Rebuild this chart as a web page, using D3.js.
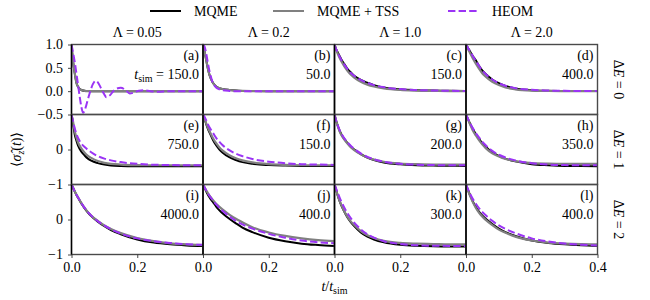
<!DOCTYPE html>
<html><head><meta charset="utf-8">
<script src="https://cdn.jsdelivr.net/npm/d3@7"></script>
<style>body{margin:0;background:#fff}</style>
</head><body><svg id="c" width="650" height="300"></svg>
<script>
// ---- data ----
const T = [0, 0.005, 0.01, 0.015, 0.02, 0.03, 0.04, 0.05, 0.06, 0.08, 0.10, 0.12, 0.15, 0.20, 0.25, 0.30, 0.35, 0.40];
const lambdas = ["0.05", "0.2", "1.0", "2.0"];
const deltaE = ["0", "1", "2"];
const letters = ["a","b","c","d","e","f","g","h","i","j","k","l"];
const tSim = ["150.0","50.0","150.0","400.0","750.0","150.0","200.0","350.0","4000.0","400.0","300.0","400.0"];
const xTicks = [0, 0.2];
const xTicksLast = [0, 0.2, 0.4];
const yTicksRow = [[1, 0.5, 0, -0.5], [0, -1], [0, -1]];
const yDomainRow = [[-0.5, 1], [-1, 1], [-1, 1]];

const mqme = [
 [1,0.62,0.38,0.18,0.09,0.025,0.008,0.002,0,0,0,0,0,0,0,0,0,0],
 [1,0.84,0.66,0.48,0.34,0.18,0.1,0.065,0.045,0.025,0.013,0.006,0.002,0,0,0,0,0],
 [1,0.9,0.83,0.76,0.69,0.58,0.47,0.4,0.33,0.24,0.18,0.13,0.08,0.04,0.022,0.012,0.007,0.005],
 [1,0.94,0.88,0.82,0.76,0.66,0.54,0.44,0.37,0.25,0.17,0.11,0.06,0.022,0.01,0.005,0.003,0.002],
 [1,0.72,0.42,0.25,0.11,-0.06,-0.17,-0.26,-0.32,-0.39,-0.43,-0.455,-0.47,-0.478,-0.48,-0.48,-0.48,-0.48],
 [1,0.86,0.72,0.59,0.48,0.28,0.12,0.0,-0.09,-0.22,-0.3,-0.36,-0.41,-0.445,-0.46,-0.468,-0.47,-0.47],
 [1,0.82,0.68,0.55,0.45,0.3,0.18,0.08,0.0,-0.13,-0.23,-0.3,-0.37,-0.425,-0.45,-0.46,-0.465,-0.47],
 [1,0.89,0.79,0.69,0.6,0.44,0.3,0.18,0.08,-0.08,-0.18,-0.26,-0.34,-0.42,-0.45,-0.47,-0.475,-0.48],
 [1,0.9,0.8,0.7,0.62,0.46,0.32,0.2,0.1,-0.06,-0.19,-0.3,-0.42,-0.57,-0.66,-0.71,-0.74,-0.76],
 [1,0.9,0.8,0.71,0.63,0.5,0.37,0.26,0.17,0.02,-0.11,-0.23,-0.36,-0.52,-0.62,-0.69,-0.73,-0.76],
 [1,0.84,0.68,0.54,0.42,0.22,0.05,-0.08,-0.19,-0.37,-0.49,-0.57,-0.65,-0.72,-0.75,-0.765,-0.77,-0.77],
 [1,0.87,0.75,0.64,0.53,0.36,0.22,0.11,0.02,-0.13,-0.26,-0.36,-0.47,-0.6,-0.67,-0.71,-0.735,-0.75]
];
const mqmeTss = [
 [1,0.62,0.38,0.18,0.09,0.025,0.008,0.002,0,0,0,0,0,0,0,0,0,0],
 [1,0.84,0.66,0.48,0.34,0.18,0.1,0.065,0.045,0.025,0.013,0.006,0.002,0,0,0,0,0],
 [1,0.89,0.8,0.72,0.65,0.53,0.43,0.35,0.29,0.2,0.14,0.1,0.06,0.025,0.012,0.006,0.003,0.002],
 [1,0.92,0.85,0.78,0.71,0.59,0.48,0.38,0.31,0.2,0.13,0.08,0.04,0.012,0.004,0.002,0.001,0],
 [1,0.78,0.52,0.34,0.2,0.03,-0.09,-0.18,-0.24,-0.33,-0.38,-0.41,-0.43,-0.445,-0.45,-0.45,-0.45,-0.45],
 [1,0.87,0.74,0.62,0.52,0.33,0.18,0.06,-0.03,-0.16,-0.25,-0.31,-0.37,-0.42,-0.44,-0.45,-0.45,-0.45],
 [1,0.81,0.66,0.53,0.43,0.28,0.16,0.06,-0.02,-0.14,-0.23,-0.29,-0.35,-0.4,-0.42,-0.43,-0.43,-0.43],
 [1,0.88,0.77,0.66,0.56,0.4,0.26,0.14,0.04,-0.11,-0.2,-0.27,-0.33,-0.39,-0.405,-0.41,-0.41,-0.41],
 [1,0.9,0.8,0.71,0.63,0.47,0.33,0.21,0.11,-0.04,-0.17,-0.27,-0.39,-0.53,-0.62,-0.68,-0.71,-0.73],
 [1,0.91,0.83,0.75,0.68,0.56,0.45,0.36,0.28,0.14,0.02,-0.08,-0.22,-0.37,-0.47,-0.54,-0.59,-0.62],
 [1,0.84,0.68,0.55,0.43,0.23,0.07,-0.06,-0.16,-0.33,-0.45,-0.53,-0.61,-0.67,-0.69,-0.7,-0.71,-0.71],
 [1,0.86,0.73,0.62,0.51,0.33,0.19,0.08,-0.01,-0.16,-0.29,-0.38,-0.49,-0.6,-0.66,-0.69,-0.705,-0.71]
];
// HEOM for panel (a) on its own finer time grid
const heomTA = [0,0.005,0.01,0.015,0.02,0.025,0.03,0.035,0.04,0.045,0.055,0.065,0.073,0.08,0.09,0.1,0.106,0.115,0.13,0.15,0.165,0.177,0.19,0.205,0.22,0.24,0.26,0.3,0.35,0.4];
const heomA = [1,0.82,0.62,0.38,0.13,-0.12,-0.34,-0.46,-0.42,-0.3,-0.05,0.15,0.22,0.19,0.06,-0.07,-0.13,-0.1,0.02,0.075,0.02,-0.05,-0.03,0.01,0.02,0,-0.01,0,0,0];
const heom = [
 null,
 [1,0.95,0.8,0.6,0.42,0.18,0.08,0.04,0.02,0.005,0,0,0,0,0,0,0,0],
 [1,0.9,0.82,0.75,0.68,0.57,0.47,0.39,0.33,0.24,0.18,0.13,0.085,0.045,0.025,0.014,0.008,0.005],
 [1,0.94,0.88,0.82,0.76,0.65,0.54,0.44,0.37,0.25,0.17,0.115,0.065,0.028,0.013,0.007,0.004,0.003],
 [1,0.8,0.6,0.45,0.33,0.17,0.07,-0.01,-0.08,-0.19,-0.26,-0.31,-0.36,-0.41,-0.435,-0.445,-0.45,-0.45],
 [1,0.93,0.83,0.72,0.63,0.48,0.33,0.22,0.12,-0.02,-0.12,-0.19,-0.27,-0.35,-0.39,-0.42,-0.43,-0.44],
 [1,0.83,0.69,0.57,0.47,0.32,0.2,0.1,0.02,-0.11,-0.21,-0.28,-0.35,-0.41,-0.435,-0.445,-0.45,-0.45],
 [1,0.9,0.8,0.71,0.62,0.47,0.34,0.22,0.12,-0.04,-0.15,-0.23,-0.31,-0.39,-0.43,-0.445,-0.45,-0.45],
 [1,0.9,0.8,0.71,0.63,0.47,0.33,0.21,0.11,-0.05,-0.17,-0.28,-0.4,-0.54,-0.62,-0.67,-0.705,-0.725],
 [1,0.91,0.83,0.75,0.67,0.55,0.43,0.33,0.24,0.09,-0.04,-0.14,-0.26,-0.41,-0.52,-0.6,-0.65,-0.68],
 [1,0.88,0.76,0.64,0.53,0.34,0.17,0.03,-0.09,-0.28,-0.42,-0.52,-0.62,-0.7,-0.735,-0.75,-0.755,-0.76],
 [1,0.89,0.79,0.69,0.6,0.45,0.32,0.21,0.12,-0.04,-0.17,-0.27,-0.39,-0.54,-0.63,-0.685,-0.72,-0.74]
];

// ---- drawing ----
const svg = d3.select("#c");
const L = 71.5, PW = 131.5, TOP = 44.5, PH = 70;
const FS = 14;
const FF = "'Liberation Serif', 'Times New Roman', Tinos, 'Noto Serif', 'DejaVu Serif', FreeSerif, 'Nimbus Roman', Times, serif";
const cBlack = "#000", cGray = "#808080", cPurple = "#9b34f5";
const fmtRow0 = d => d3.format(".1f")(d).replace("-", "\u2212");
const fmtInt = d => d3.format("d")(d).replace("-", "\u2212");

for (let r = 0; r < 3; r++) {
  for (let c = 0; c < 4; c++) {
    const i = r * 4 + c;
    const x0 = L + c * PW, y0 = TOP + r * PH;
    const xs = d3.scaleLinear().domain([0, 0.4]).range([x0, x0 + PW]);
    const ys = d3.scaleLinear().domain(yDomainRow[r]).range([y0 + PH, y0]);
    const cid = "clip" + i;
    svg.append("clipPath").attr("id", cid).append("rect")
      .attr("x", x0).attr("y", y0).attr("width", PW).attr("height", PH);
    const g = svg.append("g").attr("clip-path", `url(#${cid})`);
    const line = (tt) => d3.line().x((d, k) => xs(tt[k])).y(d => ys(d)).curve(d3.curveMonotoneX);
    g.append("path").attr("d", line(T)(mqme[i])).attr("fill", "none")
      .attr("stroke", cBlack).attr("stroke-width", 2);
    g.append("path").attr("d", line(T)(mqmeTss[i])).attr("fill", "none")
      .attr("stroke", cGray).attr("stroke-width", 2.2);
    const hT = i === 0 ? heomTA : T;
    const hV = i === 0 ? heomA : heom[i];
    g.append("path").attr("d", line(hT)(hV)).attr("fill", "none")
      .attr("stroke", cPurple).attr("stroke-width", 2).attr("stroke-dasharray", "7.4,3.2");

    // frame
    svg.append("rect").attr("x", x0).attr("y", y0).attr("width", PW).attr("height", PH)
      .attr("fill", "none").attr("stroke", "#4a4a4a").attr("stroke-width", 1.4);
    svg.append("line").attr("x1", x0).attr("x2", x0).attr("y1", y0).attr("y2", y0 + PH)
      .attr("stroke", "#000").attr("stroke-width", 1.4);

    // annotations
    svg.append("text").attr("x", x0 + PW - 4).attr("y", y0 + 15).attr("text-anchor", "end")
      .style("font-family", FF).attr("font-size", FS).text(`(${letters[i]})`);
    const t2 = svg.append("text").attr("x", x0 + PW - 4).attr("y", y0 + 34).attr("text-anchor", "end")
      .style("font-family", FF).attr("font-size", FS);
    if (i === 0) {
      t2.append("tspan").attr("font-style", "italic").text("t");
      t2.append("tspan").attr("font-size", 10).attr("dy", 3).text("sim");
      t2.append("tspan").attr("dy", -3).text(" = " + tSim[i]);
    } else {
      t2.text(tSim[i]);
    }

    // axes
    if (c === 0) {
      const ax = svg.append("g").attr("transform", `translate(${x0},0)`)
        .call(d3.axisLeft(ys).tickValues(yTicksRow[r]).tickSize(3.5).tickPadding(5)
          .tickFormat(r === 0 ? fmtRow0 : fmtInt));
      ax.select(".domain").remove();
      ax.attr("font-family", null).attr("font-size", null);
      ax.selectAll("text").attr("font-size", FS).style("font-family", FF).attr("fill", "#000");
      ax.selectAll("line").attr("stroke", "#333").attr("stroke-width", 0.9);
    }
    if (r === 2) {
      const ax = svg.append("g").attr("transform", `translate(0,${y0 + PH})`)
        .call(d3.axisBottom(xs).tickValues(c === 3 ? xTicksLast : xTicks).tickSize(3.5).tickPadding(4)
          .tickFormat(d3.format(".1f")));
      ax.select(".domain").remove();
      ax.attr("font-family", null).attr("font-size", null);
      ax.selectAll("text").attr("font-size", FS).style("font-family", FF).attr("fill", "#000");
      ax.selectAll("line").attr("stroke", "#333").attr("stroke-width", 0.9);
    }
    if (r === 0) {
      svg.append("text").attr("x", x0 + PW / 2).attr("y", 37).attr("text-anchor", "middle")
        .style("font-family", FF).attr("font-size", FS).text("\u039B = " + lambdas[c]);
    }
    if (c === 3) {
      const tx = svg.append("text").attr("transform", `translate(614,${y0 + PH / 2}) rotate(90)`)
        .attr("text-anchor", "middle").style("font-family", FF).attr("font-size", FS);
      tx.append("tspan").text("\u0394");
      tx.append("tspan").attr("font-style", "italic").text("E");
      tx.append("tspan").text(" = " + deltaE[r]);
    }
  }
}

// axis labels
const yl = svg.append("text").attr("transform", `translate(21,${TOP + 1.5 * PH}) rotate(-90)`)
  .attr("text-anchor", "middle").style("font-family", FF).attr("font-size", FS);
yl.append("tspan").text("\u27E8");
yl.append("tspan").attr("font-style", "italic").text("\u03C3\u0302");
yl.append("tspan").attr("font-style", "italic").attr("font-size", 10).attr("dy", 3).text("z");
yl.append("tspan").attr("dy", -3).text("(");
yl.append("tspan").attr("font-style", "italic").text("t");
yl.append("tspan").text(")\u27E9");

const xl = svg.append("text").attr("x", L + 2 * PW).attr("y", 291).attr("text-anchor", "middle")
  .style("font-family", FF).attr("font-size", FS);
xl.append("tspan").attr("font-style", "italic").text("t");
xl.append("tspan").text("/");
xl.append("tspan").attr("font-style", "italic").text("t");
xl.append("tspan").attr("font-size", 10).attr("dy", 3).text("sim");

// legend
const legItems = [
  {name: "MQME", color: cBlack, dash: null, x: 150},
  {name: "MQME + TSS", color: cGray, dash: null, x: 273},
  {name: "HEOM", color: cPurple, dash: "7.4,3.2", x: 448}
];
legItems.forEach(it => {
  svg.append("line").attr("x1", it.x).attr("x2", it.x + 31).attr("y1", 11).attr("y2", 11)
    .attr("stroke", it.color).attr("stroke-width", 2).attr("stroke-dasharray", it.dash);
  svg.append("text").attr("x", it.x + 44).attr("y", 16).style("font-family", FF).attr("font-size", FS).text(it.name);
});
</script></body></html>
